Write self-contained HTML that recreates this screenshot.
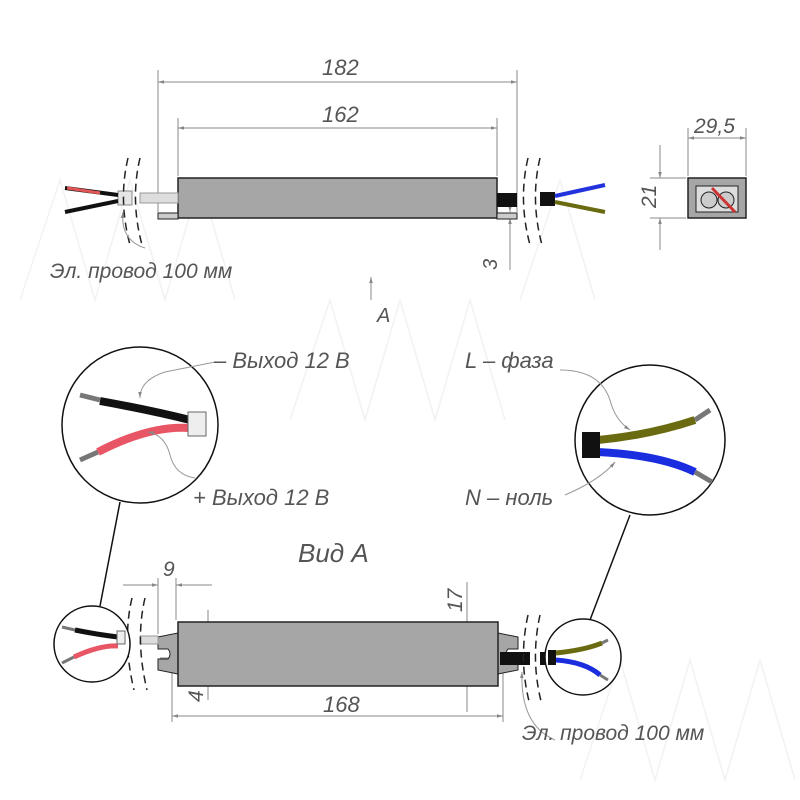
<!DOCTYPE html>
<html><head><meta charset="utf-8"><style>body{margin:0;background:#fff}svg{display:block}text{font-family:"Liberation Sans",sans-serif;font-style:italic;fill:#555}</style></head><body>
<svg width="800" height="800" viewBox="0 0 800 800" xmlns="http://www.w3.org/2000/svg">
<defs><marker id="a" viewBox="0 0 10 10" refX="10" refY="5" markerWidth="10" markerHeight="6" orient="auto-start-reverse"><path d="M0,2 L10,5 L0,8z" fill="#888"/></marker></defs>
<g fill="none" stroke="#f2f2f2" stroke-width="1.5">
<path d="M20,300 L60,180 L95,300 L130,180 L165,300 L200,180 L235,300"/>
<path d="M290,420 L330,300 L365,420 L400,300 L435,420 L470,300 L505,420"/>
<path d="M580,780 L620,660 L655,780 L690,660 L725,780 L760,660 L795,780"/>
<path d="M520,300 L560,180 L595,300"/>
</g>
<!-- TOP VIEW -->
<g stroke="#888" stroke-width="1" fill="none">
<line x1="158" y1="70" x2="158" y2="212"/><line x1="517" y1="70" x2="517" y2="212"/>
<line x1="178" y1="118" x2="178" y2="176"/><line x1="497" y1="118" x2="497" y2="176"/>
<line x1="158" y1="82" x2="517" y2="82" marker-start="url(#a)" marker-end="url(#a)"/>
<line x1="178" y1="128" x2="497" y2="128" marker-start="url(#a)" marker-end="url(#a)"/>
<line x1="510" y1="222" x2="510" y2="270"/><line x1="510" y1="200" x2="510" y2="212" marker-end="url(#a)"/>
<line x1="510" y1="240" x2="510" y2="218" marker-end="url(#a)"/>
<line x1="371" y1="300" x2="371" y2="277" marker-end="url(#a)"/>
</g>
<text x="322" y="75" font-size="22">182</text>
<text x="322" y="122" font-size="22">162</text>
<text x="0" y="0" font-size="20" transform="translate(497,270) rotate(-90)">3</text>
<text x="377" y="322" font-size="20">A</text>
<rect x="178" y="178" width="319" height="40" fill="#a6a6a6" stroke="#222" stroke-width="1.5"/>
<rect x="158" y="213" width="20" height="6" fill="#ccc" stroke="#222"/>
<rect x="497" y="213" width="20" height="6" fill="#ccc" stroke="#222"/>
<rect x="140" y="193" width="38" height="10" fill="#ddd" stroke="#999"/>
<rect x="118" y="191" width="14" height="14" fill="#e6e6e6" stroke="#888"/>
<path d="M118,195 L65,188" stroke="#111" stroke-width="4"/><path d="M100,193 L67,188" stroke="#e05555" stroke-width="3"/>
<path d="M118,201 L65,212" stroke="#111" stroke-width="4"/>
<rect x="497" y="193" width="20" height="14" fill="#111"/><rect x="540" y="192" width="15" height="14" fill="#111"/>
<path d="M555,196 L605,185" stroke="#2233dd" stroke-width="4"/><path d="M555,202 L605,212" stroke="#6a6a10" stroke-width="4"/>
<g stroke="#222" stroke-width="1.5" fill="none" stroke-dasharray="8,5">
<path d="M128,158 Q118,200 130,245"/><path d="M140,158 Q130,200 142,245"/>
<path d="M528,158 Q518,200 530,245"/><path d="M540,158 Q530,200 542,245"/>
</g>
<path d="M145,248 Q120,240 123,212" stroke="#999" fill="none" marker-end="url(#a)"/>
<text x="50" y="278" font-size="21">Эл. провод 100 мм</text>
<!-- END VIEW -->
<g stroke="#888" fill="none">
<line x1="688" y1="128" x2="688" y2="176"/><line x1="746" y1="128" x2="746" y2="176"/>
<line x1="688" y1="138" x2="746" y2="138" marker-start="url(#a)" marker-end="url(#a)"/>
<line x1="650" y1="178" x2="686" y2="178"/><line x1="650" y1="218" x2="686" y2="218"/>
<line x1="660" y1="145" x2="660" y2="178" marker-end="url(#a)"/><line x1="660" y1="250" x2="660" y2="218" marker-end="url(#a)"/>
</g>
<text x="694" y="133" font-size="21">29,5</text>
<text font-size="21" transform="translate(656,208) rotate(-90)">21</text>
<rect x="688" y="178" width="58" height="40" fill="#a6a6a6" stroke="#222" stroke-width="1.5"/>
<rect x="696" y="186" width="42" height="26" fill="#ddd" stroke="#222"/>
<circle cx="709" cy="200" r="8" fill="#ccc" stroke="#222"/><circle cx="726" cy="200" r="8" fill="#ccc" stroke="#222"/>
<path d="M712,188 L735,212" stroke="#c33" stroke-width="3"/>
<!-- DETAIL CIRCLES -->
<circle cx="140" cy="425" r="78" fill="#fff" stroke="#111" stroke-width="1.5"/>
<path d="M80,395 L100,400" stroke="#777" stroke-width="5"/><path d="M100,401 Q150,410 190,420" stroke="#111" stroke-width="8" fill="none"/>
<path d="M80,460 L98,452" stroke="#777" stroke-width="5"/><path d="M98,452 Q150,425 190,428" stroke="#e85565" stroke-width="8" fill="none"/>
<rect x="188" y="412" width="18" height="24" fill="#eee" stroke="#666"/>
<path d="M215,362 L165,372 Q140,380 140,398" stroke="#999" fill="none" marker-end="url(#a)"/>
<path d="M195,478 Q175,475 170,455 Q165,435 148,432" stroke="#999" fill="none" marker-end="url(#a)"/>
<text x="214" y="368" font-size="22">– Выход 12 В</text>
<text x="193" y="505" font-size="22">+ Выход 12 В</text>
<line x1="120" y1="502" x2="100" y2="606" stroke="#111" stroke-width="1.5"/>
<circle cx="650" cy="440" r="75" fill="#fff" stroke="#111" stroke-width="1.5"/>
<path d="M598,440 Q650,435 695,420" stroke="#6a6a10" stroke-width="8" fill="none"/><path d="M695,420 L710,410" stroke="#777" stroke-width="5"/>
<path d="M598,452 Q660,455 695,472" stroke="#1a2ee0" stroke-width="8" fill="none"/><path d="M695,472 L712,482" stroke="#777" stroke-width="5"/>
<rect x="582" y="432" width="18" height="26" fill="#111"/>
<path d="M560,370 Q600,370 610,400 Q615,420 630,430" stroke="#999" fill="none" marker-end="url(#a)"/>
<path d="M565,495 Q600,480 615,462" stroke="#999" fill="none" marker-end="url(#a)"/>
<text x="465" y="368" font-size="22">L – фаза</text>
<text x="465" y="505" font-size="22">N – ноль</text>
<line x1="630" y1="515" x2="590" y2="620" stroke="#111" stroke-width="1.5"/>
<text x="298" y="562" font-size="26">Вид А</text>
<!-- BOTTOM VIEW -->
<g stroke="#888" fill="none">
<line x1="158" y1="578" x2="158" y2="634"/><line x1="176" y1="578" x2="176" y2="620"/>
<line x1="123" y1="585" x2="158" y2="585" marker-end="url(#a)"/><line x1="212" y1="585" x2="176" y2="585" marker-end="url(#a)"/>
<line x1="172" y1="640" x2="172" y2="722"/><line x1="503" y1="640" x2="503" y2="722"/>
<line x1="172" y1="716" x2="503" y2="716" marker-start="url(#a)" marker-end="url(#a)"/>
<line x1="208" y1="610" x2="208" y2="700"/>
<line x1="208" y1="615" x2="208" y2="649" marker-end="url(#a)"/><line x1="208" y1="690" x2="208" y2="658" marker-end="url(#a)"/>
<line x1="160" y1="649" x2="215" y2="649"/><line x1="160" y1="658" x2="215" y2="658"/>
<line x1="467" y1="582" x2="467" y2="712"/>
<line x1="467" y1="600" x2="467" y2="633" marker-end="url(#a)"/><line x1="467" y1="700" x2="467" y2="672" marker-end="url(#a)"/>
<line x1="460" y1="633" x2="495" y2="633"/><line x1="460" y1="672" x2="495" y2="672"/>
</g>
<text x="163" y="576" font-size="21">9</text>
<text font-size="21" transform="translate(203,702) rotate(-90)">4</text>
<text font-size="21" transform="translate(462,612) rotate(-90)">17</text>
<text x="323" y="712" font-size="22">168</text>
<path d="M158,637 L178,633 L178,674 L158,670 L158,659 L168,659 Q172,654 168,649 L158,649Z" fill="#a6a6a6" stroke="#222"/>
<path d="M518,637 L498,633 L498,674 L518,670 L518,659 L508,659 Q504,654 508,649 L518,649Z" fill="#a6a6a6" stroke="#222"/>
<rect x="178" y="622" width="320" height="64" fill="#a6a6a6" stroke="#222" stroke-width="1.5"/>
<rect x="140" y="636" width="18" height="8" fill="#ddd" stroke="#999"/>
<rect x="500" y="652" width="30" height="13" fill="#111"/><rect x="540" y="652" width="12" height="13" fill="#111"/>
<g stroke="#222" stroke-width="1.5" fill="none" stroke-dasharray="8,5">
<path d="M132,598 Q122,640 134,690"/><path d="M145,598 Q135,640 147,690"/>
<path d="M528,615 Q518,660 530,705"/><path d="M540,615 Q530,660 542,705"/>
</g>
<circle cx="92" cy="644" r="38" fill="#fff" stroke="#111" stroke-width="1.5"/>
<path d="M62,627 L75,630" stroke="#777" stroke-width="3"/><path d="M75,630 Q100,635 118,637" stroke="#111" stroke-width="5" fill="none"/>
<path d="M62,663 L74,657" stroke="#777" stroke-width="3"/><path d="M74,657 Q100,645 118,646" stroke="#e85565" stroke-width="5" fill="none"/>
<rect x="117" y="631" width="8" height="13" fill="#eee" stroke="#666"/>
<circle cx="583" cy="657" r="38" fill="#fff" stroke="#111" stroke-width="1.5"/>
<rect x="548" y="650" width="8" height="15" fill="#111"/>
<path d="M556,653 Q585,650 602,643" stroke="#6a6a10" stroke-width="5" fill="none"/><path d="M602,643 L608,640" stroke="#777" stroke-width="3"/>
<path d="M556,660 Q585,662 600,675" stroke="#1a2ee0" stroke-width="5" fill="none"/><path d="M600,675 L608,680" stroke="#777" stroke-width="3"/>
<path d="M555,740 Q520,725 522,672" stroke="#999" fill="none" marker-end="url(#a)"/>
<text x="522" y="740" font-size="21">Эл. провод 100 мм</text>
</svg>
</body></html>
